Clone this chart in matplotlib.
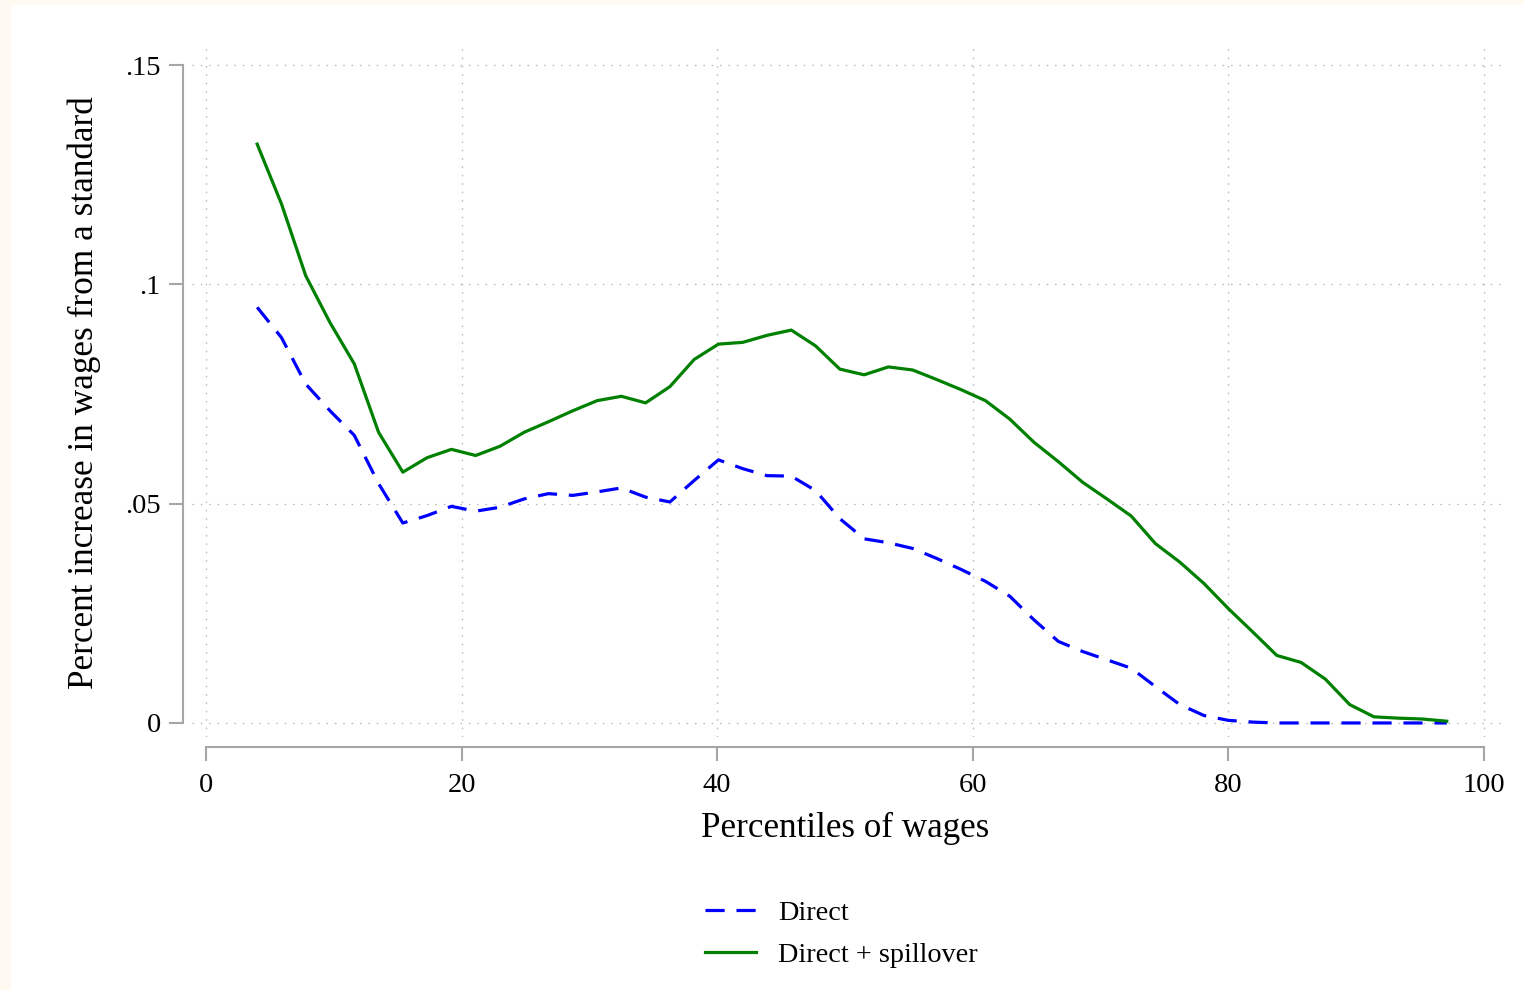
import matplotlib.pyplot as plt
from matplotlib.patches import Rectangle

# percentile bins (x)
pct = [4.0, 5.9, 7.8, 9.7, 11.6, 13.5, 15.4, 17.3, 19.2, 21.1,
       23.0, 24.9, 26.8, 28.7, 30.6, 32.5, 34.4, 36.3, 38.2, 40.1,
       42.0, 43.9, 45.8, 47.7, 49.6, 51.5, 53.4, 55.3, 57.2, 59.1,
       61.0, 62.9, 64.8, 66.7, 68.6, 70.5, 72.4, 74.3, 76.2, 78.1,
       80.0, 81.9, 83.8, 85.7, 87.6, 89.5, 91.4, 93.3, 95.2, 97.1]

direct = [0.0948, 0.0879, 0.0773, 0.0712, 0.0656, 0.0546, 0.0456, 0.0473, 0.0494, 0.0483,
          0.0492, 0.0511, 0.0523, 0.0519, 0.0527, 0.0536, 0.0515, 0.0504, 0.0553, 0.0600,
          0.0580, 0.0564, 0.0563, 0.0530, 0.0466, 0.0420, 0.0411, 0.0398, 0.0375, 0.0350,
          0.0323, 0.0289, 0.0235, 0.0186, 0.0163, 0.0144, 0.0125, 0.0083, 0.0042, 0.0017,
          0.0006, 0.0002, 0.0, 0.0, 0.0, 0.0, 0.0, 0.0, 0.0, 0.0]

spill = [0.1320, 0.1184, 0.1020, 0.0913, 0.0819, 0.0663, 0.0572, 0.0605, 0.0624, 0.0610,
         0.0631, 0.0663, 0.0687, 0.0712, 0.0735, 0.0745, 0.0730, 0.0767, 0.0829, 0.0864,
         0.0868, 0.0884, 0.0896, 0.0860, 0.0807, 0.0794, 0.0812, 0.0805, 0.0783, 0.0760,
         0.0735, 0.0693, 0.0640, 0.0596, 0.0549, 0.0511, 0.0472, 0.0409, 0.0367, 0.0318,
         0.0261, 0.0208, 0.0154, 0.0138, 0.0100, 0.0042, 0.0014, 0.0011, 0.0009, 0.0004]

xticks = [0, 20, 40, 60, 80, 100]
yticks = [0, 0.05, 0.1, 0.15]
ylabels = ["0", ".05", ".1", ".15"]

plt.rcParams['font.family'] = ['Liberation Serif', 'DejaVu Serif']

W, H = 1524, 990
fig = plt.figure(figsize=(W / 100, H / 100), dpi=100, facecolor='#fef9f1')
# white panel, leaving the thin cream strip at top and left
fig.patches.append(Rectangle((11 / W, 0), 1, (H - 5) / H, transform=fig.transFigure,
                             facecolor='white', edgecolor='none', zorder=-5))

ax = fig.add_axes([192 / W, 1 - 737 / H, (1503 - 192) / W, (737 - 42) / H])
ax.set_facecolor('white')

ax.plot(pct, direct, color='#0000ff', lw=2.3, linestyle=(0, (6.0, 3.7)), label='Direct', zorder=3)
ax.plot(pct, spill, color='#008000', lw=2.3, label='Direct + spillover', zorder=3)

ax.set_xlim(-1.1, 101.5)
ax.set_ylim(-0.0032, 0.1553)

ax.set_xticks(xticks)
ax.set_yticks(yticks)
ax.set_yticklabels(ylabels)

grid_kw = dict(color='#b4b4b4', lw=0.9, linestyle=(0, (1.2, 5.5)), zorder=1)
for xv in xticks:
    ax.axvline(xv, **grid_kw)
for yv in yticks:
    ax.axhline(yv, **grid_kw)

for s in ['top', 'right']:
    ax.spines[s].set_visible(False)
ax.spines['left'].set_position(('outward', 9 * 0.72))
ax.spines['bottom'].set_position(('outward', 10 * 0.72))
ax.spines['left'].set_bounds(0, 0.15)
ax.spines['bottom'].set_bounds(0, 100)
for s in ['left', 'bottom']:
    ax.spines[s].set_color('#a6a6a6')
    ax.spines[s].set_linewidth(1.5)

ax.tick_params(axis='both', colors='#a6a6a6', width=1.5, length=10, labelcolor='black', labelsize=20.5)
ax.tick_params(axis='y', pad=6)
ax.tick_params(axis='x', pad=9)

fig.text(845 / W, 1 - 828 / H, 'Percentiles of wages', ha='center', va='center', fontsize=25.2)
fig.text(84 / W, 1 - 393 / H, 'Percent increase in wages from a standard',
         ha='center', va='center', rotation=90, fontsize=25.4)

ax.legend(loc='upper left', bbox_to_anchor=(705 / W, 1 - 900 / H), bbox_transform=fig.transFigure,
          frameon=False, borderaxespad=0, borderpad=0, fontsize=20.3,
          handlelength=1.8, handletextpad=0.8, labelspacing=0.57)

fig.savefig('out.png', dpi=100, facecolor=fig.get_facecolor())
